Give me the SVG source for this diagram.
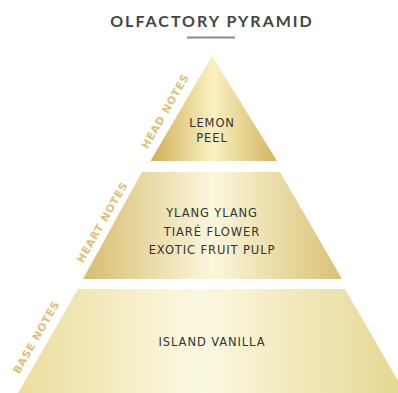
<svg xmlns="http://www.w3.org/2000/svg" width="398" height="393" viewBox="0 0 398 393">
<defs>
<linearGradient id="g1" gradientUnits="userSpaceOnUse" x1="150" y1="0" x2="277" y2="0">
<stop offset="0" stop-color="#cfae55"/>
<stop offset="0.5" stop-color="#faf1c2"/>
<stop offset="1" stop-color="#d3b45c"/>
</linearGradient>
<linearGradient id="g2" gradientUnits="userSpaceOnUse" x1="83" y1="0" x2="342" y2="0">
<stop offset="0" stop-color="#d6bd6e"/>
<stop offset="0.5" stop-color="#fcf7dc"/>
<stop offset="1" stop-color="#d9c172"/>
</linearGradient>
<linearGradient id="g3" gradientUnits="userSpaceOnUse" x1="18" y1="0" x2="398" y2="0">
<stop offset="0" stop-color="#ebdd9c"/>
<stop offset="0.48" stop-color="#fcf9e2"/>
<stop offset="1" stop-color="#e6d894"/>
</linearGradient>
<style>
.title{font-family:Lato,"Liberation Sans",sans-serif;font-weight:700;font-size:16px;letter-spacing:2px;fill:#444444;text-anchor:middle}
.note{font-family:"DejaVu Sans","Liberation Sans",sans-serif;font-weight:400;font-size:11.5px;letter-spacing:0.9px;fill:#333333;text-anchor:middle}
.side{font-family:"DejaVu Sans","Liberation Sans",sans-serif;font-weight:700;font-size:10.5px;letter-spacing:0.8px;fill:#dcc078;text-anchor:middle}
</style>
</defs>
<rect width="398" height="393" fill="#ffffff"/>
<g id="title">
<text class="title" x="212" y="27">OLFACTORY PYRAMID</text>
<line x1="187" y1="37.5" x2="235" y2="37.5" stroke="#8a8a8a" stroke-width="2"/>
</g>
<g id="head">
<polygon points="212,56 150.5,161 277,161" fill="url(#g1)"/>
<text class="note" x="212" y="127">LEMON</text>
<text class="note" x="212" y="142">PEEL</text>
<text class="side" transform="translate(165,111) rotate(-60)" y="4">HEAD NOTES</text>
</g>
<g id="heart">
<polygon points="142,172 280,172 342,279 83,279" fill="url(#g2)"/>
<text class="note" x="212" y="217">YLANG YLANG</text>
<text class="note" x="212" y="236">TIARÉ FLOWER</text>
<text class="note" x="212" y="254">EXOTIC FRUIT PULP</text>
<text class="side" transform="translate(102,222) rotate(-60)" y="4">HEART NOTES</text>
</g>
<g id="base">
<polygon points="78,289 345,289 405,393 18,393" fill="url(#g3)"/>
<text class="note" x="212" y="346">ISLAND VANILLA</text>
<text class="side" transform="translate(36,337) rotate(-60)" y="4">BASE NOTES</text>
</g>
</svg>
